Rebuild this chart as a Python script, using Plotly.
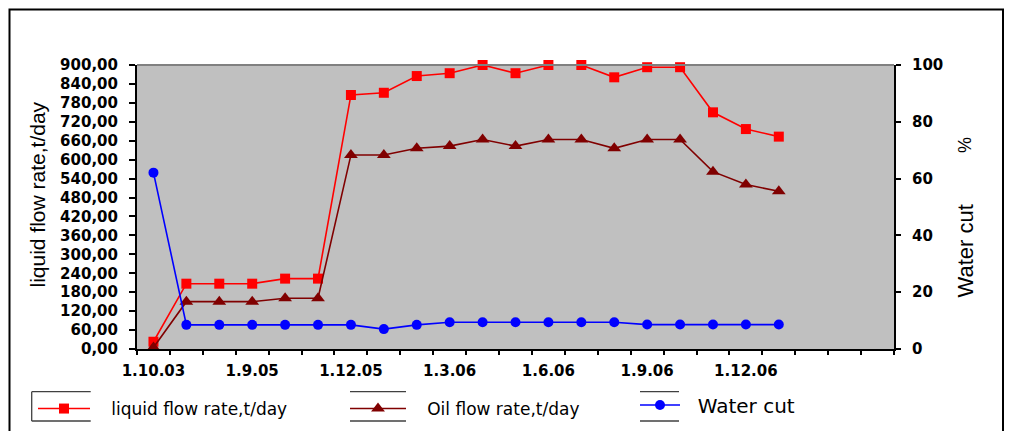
import plotly.graph_objects as go

# ---------------- data ----------------
x_idx = list(range(20))                       # category index of each measurement
n_categories = 23
x_tick_pos = [0, 3, 6, 9, 12, 15, 18]
x_tick_labels = ["1.10.03", "1.9.05", "1.12.05", "1.3.06", "1.6.06", "1.9.06", "1.12.06"]

liquid_rate = [23, 207, 207, 207, 223, 223, 805, 812, 865, 874,
               900, 874, 900, 900, 861, 893, 893, 750, 697, 673]
oil_rate = [5, 150, 150, 150, 161, 161, 615, 615, 636, 643,
            664, 643, 664, 664, 636, 664, 664, 562, 521, 500]
water_cut = [62.1, 8.5, 8.5, 8.5, 8.5, 8.5, 8.5, 7.0, 8.5, 9.4,
             9.4, 9.4, 9.4, 9.4, 9.4, 8.6, 8.6, 8.6, 8.6, 8.6]

left_tick_vals = list(range(0, 901, 60))
left_tick_text = ["0,00", "60,00", "120,00", "180,00", "240,00", "300,00", "360,00", "420,00",
                  "480,00", "540,00", "600,00", "660,00", "720,00", "780,00", "840,00", "900,00"]
right_tick_vals = [0, 20, 40, 60, 80, 100]

# ---------------- layout helpers ----------------
# The page body has an 8px margin, so the figure is drawn 8px smaller and
# every page-pixel position is shifted by that offset.
OFF = 8
PW, PH = 1012, 439
FW, FH = PW - 2 * OFF, PH - 2 * OFF
L, R, T, B = 137, 894, 65, 349      # plot area in page pixels


def px(x):
    return (x - L) / (R - L)


def py(y):
    return (B - y) / (B - T)


TICKFONT = dict(family="DejaVu Sans", size=15, color="black", weight="bold")
NB = "\u00a0"

fig = go.Figure()
fig.add_trace(go.Scatter(
    x=x_idx, y=liquid_rate, name=NB * 3 + "liquid flow rate,t/day", mode="lines+markers",
    line=dict(color="#FF0000", width=1.6),
    marker=dict(symbol="square", size=10, color="#FF0000"),
    cliponaxis=False, legend="legend", showlegend=True))
fig.add_trace(go.Scatter(
    x=x_idx, y=oil_rate, name=NB * 3 + "Oil flow rate,t/day", mode="lines+markers",
    line=dict(color="#800000", width=1.6),
    marker=dict(symbol="triangle-up", size=12, color="#800000"),
    cliponaxis=False, legend="legend2", showlegend=True))
fig.add_trace(go.Scatter(
    x=x_idx, y=water_cut, name=NB * 2 + "Water cut", mode="lines+markers", yaxis="y2",
    line=dict(color="#0000FF", width=1.6),
    marker=dict(symbol="circle", size=10, color="#0000FF"),
    cliponaxis=False, legend="legend3", showlegend=True))

fig.update_layout(
    width=FW, height=FH, showlegend=True,
    margin=dict(l=L - OFF, r=FW - (R - OFF), t=T - OFF, b=FH - (B - OFF), pad=0, autoexpand=False),
    paper_bgcolor="white", plot_bgcolor="#C0C0C0",
    font=dict(family="Liberation Sans", color="black"),
    xaxis=dict(
        range=[-0.5, n_categories - 0.5], showgrid=False, zeroline=False,
        showline=True, linecolor="black", linewidth=2,
        tickmode="array", tickvals=x_tick_pos, ticktext=x_tick_labels,
        ticks="", tickfont=TICKFONT, ticklabelstandoff=7,
        minor=dict(tickmode="array", tickvals=[i - 0.5 for i in range(n_categories + 1)],
                   ticks="outside", ticklen=4, tickcolor="black", tickwidth=1.5, showgrid=False),
    ),
    yaxis=dict(
        range=[0, 900], showgrid=False, zeroline=False,
        showline=True, linecolor="black", linewidth=2,
        tickmode="array", tickvals=left_tick_vals, ticktext=left_tick_text,
        ticks="outside", ticklen=6, tickwidth=1.5, tickcolor="black",
        tickfont=TICKFONT, ticklabelstandoff=8,
    ),
    yaxis2=dict(
        range=[0, 100], overlaying="y", side="right", showgrid=False, zeroline=False,
        showline=True, linecolor="black", linewidth=2,
        tickmode="array", tickvals=right_tick_vals,
        ticks="outside", ticklen=5, tickwidth=1.5, tickcolor="black",
        tickfont=TICKFONT, ticklabelstandoff=8,
    ),
    legend=dict(x=px(33), y=py(409), xanchor="left", yanchor="middle",
                bgcolor="rgba(0,0,0,0)", borderwidth=0, itemwidth=52,
                font=dict(family="DejaVu Sans", size=17, color="black")),
    legend2=dict(x=px(345), y=py(409), xanchor="left", yanchor="middle",
                 bgcolor="rgba(0,0,0,0)", borderwidth=0, itemwidth=56,
                 font=dict(family="DejaVu Sans", size=17, color="black")),
    legend3=dict(x=px(635), y=py(405), xanchor="left", yanchor="middle",
                 bgcolor="rgba(0,0,0,0)", borderwidth=0, itemwidth=40,
                 font=dict(family="DejaVu Sans", size=20, color="black")),
)

# axis titles
fig.add_annotation(text="liquid flow rate,t/day", xref="paper", yref="paper",
                   x=px(37.5), y=py(195), xanchor="center", yanchor="middle",
                   textangle=-90, showarrow=False,
                   font=dict(family="Liberation Sans", size=21, color="black"))
fig.add_annotation(text="Water cut", xref="paper", yref="paper",
                   x=px(965), y=py(251.5), xanchor="center", yanchor="middle",
                   textangle=-90, showarrow=False,
                   font=dict(family="Liberation Sans", size=22, color="black"))
fig.add_annotation(text="%", xref="paper", yref="paper",
                   x=px(965), y=py(145), xanchor="center", yanchor="middle",
                   textangle=-90, showarrow=False,
                   font=dict(family="Liberation Sans", size=18, color="black"))

# frame & decorations
BOX = dict(color="#404040", width=1.3)
shapes = [
    dict(type="rect", xref="paper", yref="paper", x0=px(9.5), x1=px(1003), y0=py(460), y1=py(9.5),
         line=dict(color="black", width=2), layer="above"),
    dict(type="line", xref="paper", yref="paper", x0=0, x1=1, y0=1, y1=1,
         line=dict(color="#808080", width=2)),
    # legend boxes
    dict(type="line", xref="paper", yref="paper", x0=px(31.7), x1=px(31.7), y0=py(391.7), y1=py(421), line=BOX),
    dict(type="line", xref="paper", yref="paper", x0=px(31.7), x1=px(90.7), y0=py(391.7), y1=py(391.7), line=BOX),
    dict(type="line", xref="paper", yref="paper", x0=px(31.7), x1=px(90.7), y0=py(421), y1=py(421), line=BOX),
    dict(type="line", xref="paper", yref="paper", x0=px(350), x1=px(406), y0=py(391.7), y1=py(391.7), line=BOX),
    dict(type="line", xref="paper", yref="paper", x0=px(350), x1=px(406), y0=py(421), y1=py(421), line=BOX),
    dict(type="line", xref="paper", yref="paper", x0=px(640), x1=px(679), y0=py(391.7), y1=py(391.7), line=BOX),
    dict(type="line", xref="paper", yref="paper", x0=px(640), x1=px(679), y0=py(421), y1=py(421), line=BOX),
]
fig.update_layout(shapes=shapes)

fig.write_html("out.html")
